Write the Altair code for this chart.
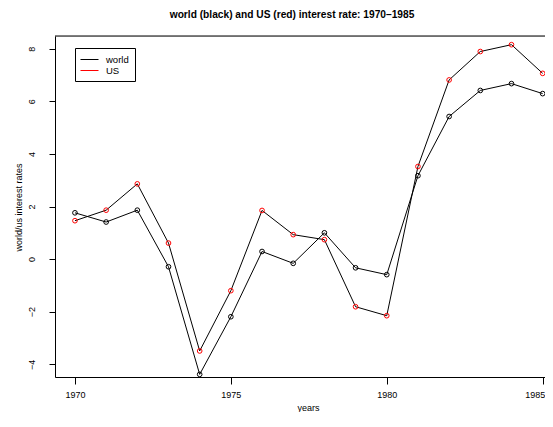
import altair as alt
import pandas as pd

years = list(range(1970, 1986))
world = [1.76, 1.41, 1.86, -0.29, -4.38, -2.19, 0.29, -0.16, 1.00, -0.33, -0.59, 3.17, 5.42, 6.41, 6.67, 6.29]
us = [1.46, 1.86, 2.86, 0.61, -3.49, -1.20, 1.85, 0.93, 0.74, -1.81, -2.15, 3.52, 6.81, 7.89, 8.15, 7.06]
series_names = ["world", "US"]
series_colors = ["black", "red"]
x_ticks = [1970, 1975, 1980, 1985]
y_ticks = [-4, -2, 0, 2, 4, 6, 8]

rows = []
for name, vals in zip(series_names, [world, us]):
    for yr, v in zip(years, vals):
        rows.append({"year": yr, "rate": v, "series": name})
df = pd.DataFrame(rows)

W, H = 490, 341
FONT = "Liberation Sans"

xs = alt.Scale(domain=[1969.36, 1985.075], nice=False, zero=False)
ys = alt.Scale(domain=[-4.48, 8.48], nice=False, zero=False)

x_enc = alt.X("year:Q", scale=xs, title="years",
              axis=alt.Axis(values=x_ticks, format="d", grid=False, tickSize=7,
                            labelPadding=6, domainColor="black",
                            tickColor="black", labelColor="black", titleColor="black",
                            labelFontSize=9, titleFontSize=9, labelFont=FONT, titleFont=FONT,
                            titleFontWeight="normal", labelFlush=False,
                            titleX=253, titleY=35, titleBaseline="bottom",
                            labelAlign={"condition": {"test": "datum.value == 1985", "value": "right"},
                                        "value": "center"},
                            labelOffset={"condition": {"test": "datum.value == 1985", "value": 2},
                                         "value": 0}))
y_enc = alt.Y("rate:Q", scale=ys, title="world/us interest rates",
              axis=alt.Axis(values=y_ticks, grid=False, tickSize=6, labelAngle=270,
                            labelAlign="center", labelBaseline="bottom", labelPadding=13,
                            titleX=-37, titleY=171, titleBaseline="middle",
                            domainColor="black", tickColor="black",
                            labelColor="black", titleColor="black", labelFontSize=9,
                            titleFontSize=9, labelFont=FONT, titleFont=FONT,
                            titleFontWeight="normal", labelFlush=False))

base = alt.Chart(df)

lines = base.mark_line(color="black", strokeWidth=1, clip=True).encode(
    x=x_enc, y=y_enc, detail="series:N"
)

points = base.mark_point(filled=False, size=22, strokeWidth=1, opacity=1, clip=True).encode(
    x=x_enc, y=y_enc,
    color=alt.Color("series:N", scale=alt.Scale(domain=series_names, range=series_colors),
                    sort=series_names,
                    legend=alt.Legend(title=None, orient="none", legendX=20, legendY=12,
                                      symbolType="M-1.8,0H1.8", symbolSize=100, symbolStrokeWidth=1,
                                      symbolOffset=3, labelFontSize=9.5, labelFont=FONT,
                                      labelColor="black", strokeColor="black", padding=6,
                                      rowPadding=1, labelOffset=11, fillColor="white")),
)

one = pd.DataFrame({"k": [0]})
top_rule = alt.Chart(one).mark_rule(color="black", strokeWidth=1).encode(
    x=alt.value(0), x2=alt.value(W), y=alt.value(0)
)

chart = alt.layer(lines, points, top_rule).properties(
    width=W, height=H,
    title=alt.Title("world (black) and US (red) interest rate: 1970\u20131985",
                    font=FONT, fontSize=10.2, fontWeight="bold", color="black",
                    anchor="middle", dx=-8, offset=15.5),
    autosize=alt.AutoSizeParams(type="none"),
    padding={"left": 47, "top": 28, "right": 0, "bottom": 35},
).configure_view(stroke=None).configure(background="white")

chart.save("out.html", embed_options={"renderer": "svg", "actions": False})
